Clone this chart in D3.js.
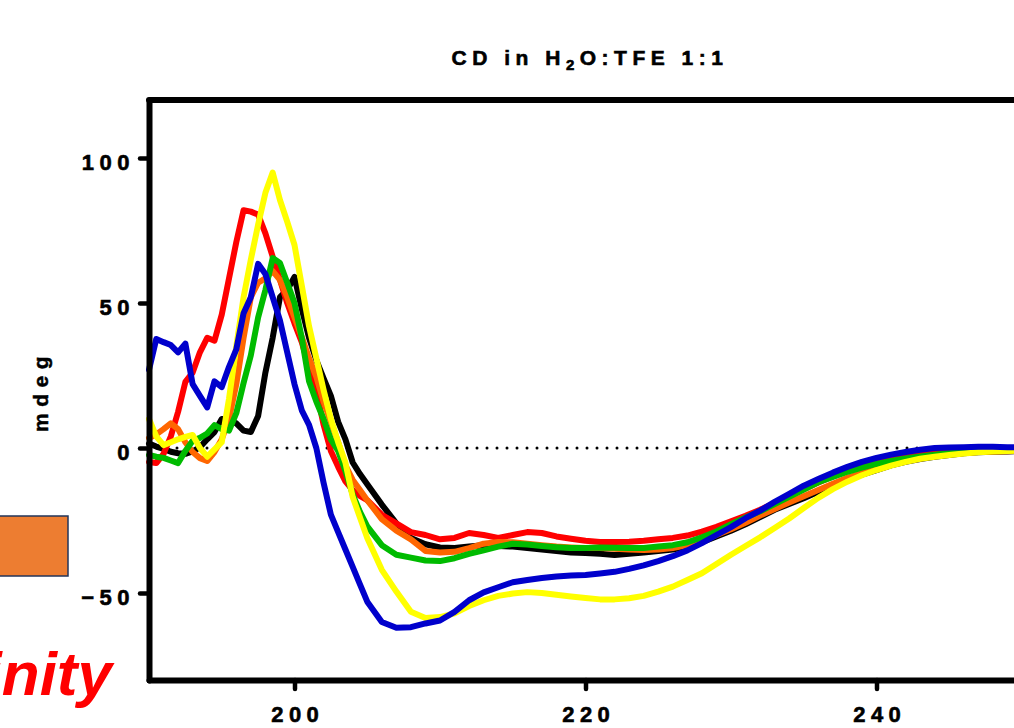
<!DOCTYPE html>
<html>
<head>
<meta charset="utf-8">
<script src="https://cdn.jsdelivr.net/npm/d3@7"></script>
<style>
  html, body { margin: 0; padding: 0; background: #ffffff; }
  svg { display: block; }
  text { font-family: "Liberation Sans", Arial, sans-serif; }
</style>
</head>
<body>
<script>
// ---------------- data ----------------
const wavelength = [190,190.5,191,191.5,192,192.5,193,193.5,194,194.5,195,195.5,196,196.5,197,197.5,198,198.5,199,199.5,200,200.5,201,201.5,202,202.5,203,203.5,204,204.5,205,
  206,207,208,209,210,211,212,213,214,215,216,217,218,219,220,221,222,223,224,225,226,227,228,229,230,231,232,233,234,235,236,237,238,239,240,241,242,243,244,245,246,247,248,249,250];

const blackSeries = [1.5,0.5,-0.3,-1.3,-1.8,-2,-1.2,0.3,3,5.5,10,9.5,8.5,6,5.5,11,26,38,52,54.5,59,48,38,30.3,24,18,9,3,-5,-9,-12.5,
  -19.5,-26,-31,-33.2,-34.3,-34.5,-34,-33.5,-33.8,-34,-34.5,-35,-35.5,-36,-36.2,-36.5,-36.9,-36.5,-36,-35.5,-35,-34,-32.5,-30.5,-28.5,-26.3,-23.8,-21.3,-19.3,-17.3,-15.1,-12.8,-10.8,-9.2,-7.6,-6,-4.8,-3.8,-3,-2.4,-1.8,-1.5,-1.3,-1.2,-1.1];

const redSeries = [-4.8,-5.2,-2,4,12.5,22.8,26,33,38,37,46,58.5,71,82,81.5,80.5,74,66,58,50,43,36.5,28,20,8,-1,-6.5,-11.5,-14.5,-16.5,-18,
  -23,-26,-29,-30,-31.5,-31,-29.3,-30,-31,-30,-29,-29.3,-30.5,-31.3,-32,-32.4,-32.4,-32.3,-32,-31.5,-31,-30.2,-28.8,-27.2,-25.3,-23.4,-21.3,-19,-16.6,-14.2,-11.9,-9.8,-8,-6.4,-5,-3.9,-3,-2.3,-1.7,-1.3,-1,-0.8,-0.6,-0.5,-0.5];

const orangeSeries = [3.4,4.7,6.5,8.5,6.5,2,-1.4,-3.5,-4.5,-1.4,3,10,22,38,52,57,58.5,61,58,52,45,38.3,31,24.5,16,9,2,-6,-11,-14.5,-18,
  -24.5,-28.5,-31.5,-35.5,-36,-35.8,-34.5,-33,-32.4,-32.5,-33,-33.5,-34,-34.3,-34.5,-34.5,-34.7,-35,-35.2,-35,-34.5,-33.5,-32,-30,-28,-25.8,-23.3,-21,-18.8,-16.6,-14.5,-12.3,-10.3,-8.7,-7.2,-5.8,-4.6,-3.6,-2.8,-2.2,-1.7,-1.4,-1.2,-1.1,-1];

const greenSeries = [-2.4,-3,-3.4,-4.3,-5.2,-1,2.5,3.5,5,7.9,6.5,6,12,22.4,32,45,54.5,65.5,63.8,57,50,38,23,16,10,3,-1,-8,-16,-22,-27,
  -33.5,-36.8,-37.8,-38.8,-39,-38,-36.5,-35.3,-34,-33,-33.3,-33.8,-34.2,-34.5,-34.5,-34.3,-34.4,-34.5,-34.5,-34,-33.5,-32.5,-30.8,-28.8,-26.3,-24,-21.8,-19.3,-16.8,-14.3,-11.8,-10,-8.2,-6.8,-5.5,-4.5,-3.6,-2.9,-2.3,-1.8,-1.4,-1.1,-0.9,-0.8,-0.7];

const yellowSeries = [10,4,1,2,3,3.8,4.5,0,-3,-0.5,2,17,35,52,65,77,88,95,85.5,78,70,56,42,31,20,10,2,-5,-16.9,-24,-31,
  -42,-49.5,-56.5,-58.6,-58.3,-57,-54.5,-52.5,-51,-50.2,-49.7,-50,-50.6,-51.2,-51.7,-52.2,-52.2,-51.8,-51,-49.5,-47.8,-45.5,-43.2,-40,-36.8,-33.8,-30.8,-27.6,-24.3,-20.7,-17.2,-14.2,-11.6,-9.4,-7.6,-6.1,-4.8,-3.7,-3,-2.4,-1.9,-1.5,-1.2,-1,-0.8];

const blueSeries = [27,37.6,36.5,35.5,33,36,22,18,14,23,21,28,34,46.5,52,63.5,60,52,44,33,22,13,8,0,-12,-23,-29,-35,-41,-47,-53,
  -60,-62,-61.8,-60.5,-59.5,-56.5,-52.5,-49.8,-48,-46.3,-45.5,-44.8,-44.3,-44,-43.8,-43.3,-42.7,-41.7,-40.5,-39,-37.3,-35.3,-32.8,-30,-27.3,-24.2,-21.6,-18.6,-15.8,-13,-10.7,-8.5,-6.5,-4.8,-3.4,-2.3,-1.4,-0.6,0,0.2,0.3,0.4,0.4,0.3,0.3];

const seriesNames = ["black", "red", "orange", "green", "yellow", "blue"];
const seriesColors = ["#000000", "#FF0000", "#FF6600", "#00BB00", "#FFFF00", "#0000CC"];
const seriesValues = [blackSeries, redSeries, orangeSeries, greenSeries, yellowSeries, blueSeries];

const yTicks = [-50, 0, 50, 100];
const xTicks = [200, 220, 240];
const titleParts = ["CD in H", "2", "O:TFE 1:1"];
const yLabel = "mdeg";
const sideText = "Affinity";

// ---------------- chart ----------------
const W = 1014, H = 728;
const svg = d3.select("body").append("svg").attr("width", W).attr("height", H);
svg.append("rect").attr("width", W).attr("height", H).attr("fill", "#fff");

const x = d3.scaleLinear().domain([190, 250]).range([149, 1022]);
const y = d3.scaleLinear().domain([-80, 120]).range([680, 100]);

// decorations from the slide
svg.append("rect").attr("x", -2).attr("y", 516).attr("width", 70).attr("height", 60)
  .attr("fill", "#ED7D31").attr("stroke", "#22355A").attr("stroke-width", 1.5);
svg.append("text").attr("x", 112).attr("y", 695).attr("text-anchor", "end")
  .attr("font-size", 62).attr("font-weight", "bold").attr("font-style", "italic")
  .attr("fill", "#FF0000").text(sideText);

// zero line (dotted)
svg.append("line")
  .attr("x1", 157).attr("x2", x(250)).attr("y1", y(0)).attr("y2", y(0))
  .attr("stroke", "#000").attr("stroke-width", 3).attr("stroke-linecap", "round")
  .attr("stroke-dasharray", "0,10");

// series
const line = d3.line().x((d, i) => x(wavelength[i])).y(d => y(d)).curve(d3.curveLinear);
seriesValues.forEach((vals, k) => {
  svg.append("path").datum(vals)
    .attr("d", line)
    .attr("fill", "none")
    .attr("stroke", seriesColors[k])
    .attr("stroke-width", 6)
    .attr("stroke-linejoin", "round")
    .attr("stroke-linecap", "round");
});

// top frame line
svg.append("line").attr("x1", x(190)).attr("x2", x(250)).attr("y1", y(120)).attr("y2", y(120))
  .attr("stroke", "#000").attr("stroke-width", 6).attr("stroke-linecap", "round");

// axes
const yAxis = d3.axisLeft(y).tickValues(yTicks).tickSize(9).tickSizeOuter(0).tickPadding(5).tickFormat(d3.format("d"));
const gy = svg.append("g").attr("transform", `translate(${x(190)},0)`).call(yAxis);
const xAxis = d3.axisBottom(x).tickValues(xTicks).tickSize(9).tickSizeOuter(0).tickPadding(17).tickFormat(d3.format("d"));
const gx = svg.append("g").attr("transform", `translate(0,${y(-80)})`).call(xAxis);

[gx, gy].forEach(g => {
  g.select(".domain").attr("stroke", "#000").attr("stroke-width", 6).attr("stroke-linecap", "round");
  g.selectAll(".tick line").attr("stroke", "#000").attr("stroke-width", 4.5).attr("stroke-linecap", "round");
  g.selectAll(".tick text").attr("fill", "#000").attr("font-size", 22).attr("font-weight", "bold")
    .attr("stroke", "#000").attr("stroke-width", 0.6)
    .attr("font-family", '"Liberation Sans", Arial, sans-serif').style("letter-spacing", "5.5px");
});
gy.selectAll(".tick text").attr("dy", "0.5em");
gx.selectAll(".tick text").attr("dx", "2.75px");

// title
const title = svg.append("text").attr("x", 590).attr("y", 65).attr("text-anchor", "middle")
  .attr("font-size", 21).attr("font-weight", "bold").attr("stroke", "#000").attr("stroke-width", 0.6)
  .style("letter-spacing", "5.5px");
title.append("tspan").text(titleParts[0]);
title.append("tspan").attr("font-size", 15).attr("dy", 5).text(titleParts[1]);
title.append("tspan").attr("dy", -5).text(titleParts[2]);

// y label
svg.append("text").attr("transform", "translate(48,391) rotate(-90)").attr("text-anchor", "middle")
  .attr("font-size", 21).attr("font-weight", "bold").attr("stroke", "#000").attr("stroke-width", 0.5)
  .style("letter-spacing", "6.5px").text(yLabel);
</script>
</body>
</html>
